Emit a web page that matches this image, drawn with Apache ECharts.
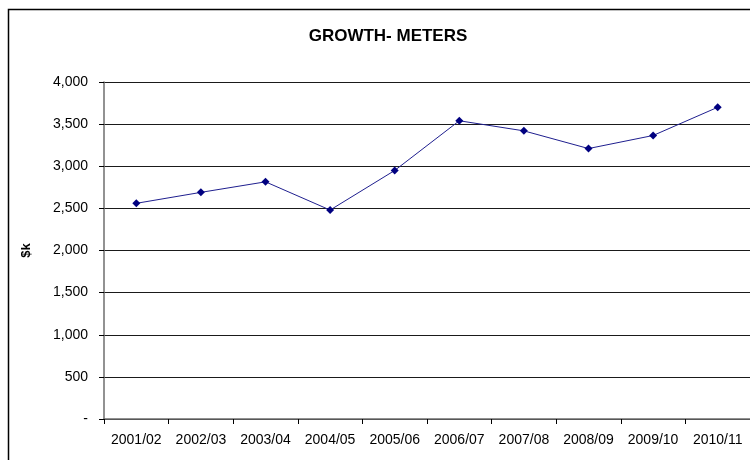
<!DOCTYPE html>
<html>
<head>
<meta charset="utf-8">
<script src="https://cdn.jsdelivr.net/npm/echarts@6/dist/echarts.min.js"></script>
<style>
  html, body { margin: 0; padding: 0; background: #fff; }
  #chart { width: 750px; height: 460px; }
</style>
</head>
<body>
<div id="chart"></div>
<script>
// Annual growth in meters spending, $k
const years = ['2001/02', '2002/03', '2003/04', '2004/05', '2005/06',
               '2006/07', '2007/08', '2008/09', '2009/10', '2010/11'];
const growth = [2560, 2690, 2815, 2480, 2950, 3540, 3420, 3210, 3365, 3700];
const yTicks = [0, 500, 1000, 1500, 2000, 2500, 3000, 3500, 4000];

const font = 'Liberation Sans, Arial, sans-serif';
const chart = echarts.init(document.getElementById('chart'), null, { renderer: 'canvas' });

chart.setOption({
  animation: false,
  backgroundColor: '#fff',
  title: {
    text: 'GROWTH- METERS',
    left: 383,
    top: 23,
    textAlign: 'center',
    textStyle: { fontFamily: font, fontSize: 17, fontWeight: 'bold', color: '#000' }
  },
  graphic: [{
    type: 'rect',
    left: 6, top: 7,
    shape: { width: 800, height: 500 },
    style: { fill: 'none', stroke: '#000', lineWidth: 1.5 },
    silent: true, z: -1
  }],
  grid: { left: 104, right: 0, top: 82, bottom: 41 },
  xAxis: {
    type: 'category',
    data: years,
    boundaryGap: true,
    axisLine: { lineStyle: { color: '#6e6e6e', width: 1.5 } },
    axisTick: { show: true, interval: 0, length: 5, lineStyle: { color: '#000' } },
    axisLabel: { interval: 0, hideOverlap: false, fontFamily: font, fontSize: 14, color: '#000', margin: 14 },
    splitLine: { show: false }
  },
  yAxis: {
    type: 'value',
    min: yTicks[0],
    max: yTicks[yTicks.length - 1],
    interval: 500,
    name: '$k',
    nameLocation: 'middle',
    nameGap: 71,
    nameTextStyle: { fontFamily: font, fontSize: 13, fontWeight: 'bold', color: '#000' },
    axisLine: { show: true, lineStyle: { color: '#6e6e6e', width: 1.5 } },
    axisTick: { show: true, length: 5, inside: false, lineStyle: { color: '#000' } },
    axisLabel: {
      fontFamily: font, fontSize: 14, color: '#000', margin: 16,
      formatter: v => v === 0 ? '-' : v.toLocaleString('en-US')
    },
    splitLine: { show: true, lineStyle: { color: '#1a1a1a', width: 1 } }
  },
  series: [{
    type: 'line',
    data: growth,
    symbol: 'diamond',
    symbolSize: 8,
    lineStyle: { color: '#1f1f8f', width: 1 },
    itemStyle: { color: '#000080' }
  }]
});
</script>
</body>
</html>
